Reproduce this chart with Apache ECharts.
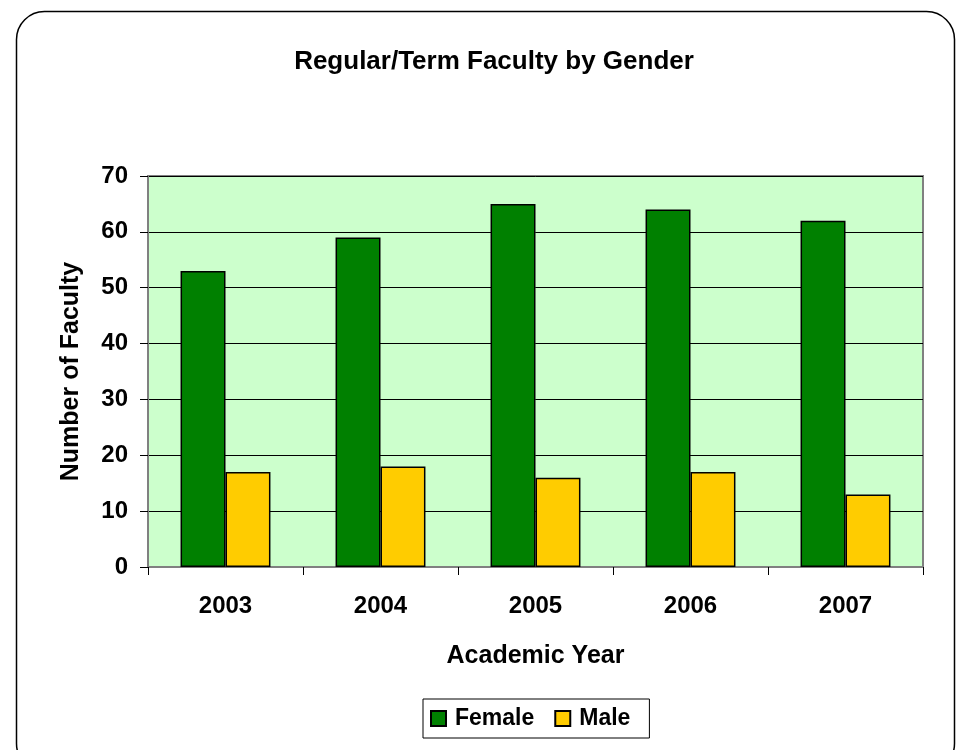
<!DOCTYPE html>
<html>
<head>
<meta charset="utf-8">
<script src="https://cdn.jsdelivr.net/npm/echarts@6/dist/echarts.min.js"></script>
<style>
  html, body { margin: 0; padding: 0; background: #fff; }
  #chart { width: 961px; height: 750px; }
</style>
</head>
<body>
<div id="chart"></div>
<script>
const years = ['2003', '2004', '2005', '2006', '2007']
const female = [53, 59, 65, 64, 62]
const male = [17, 18, 16, 17, 13]
const yTicks = { min: 0, max: 70, interval: 10 }

const font = "'Liberation Sans', Arial, sans-serif"
const chart = echarts.init(document.getElementById('chart'))

chart.setOption({
  animation: false,
  textStyle: { fontFamily: font },
  graphic: [
    {
      type: 'rect',
      shape: { x: 16.5, y: 11.5, width: 938, height: 760, r: 28 },
      style: { fill: 'none', stroke: '#000', lineWidth: 1.5 },
      silent: true
    }
  ],
  title: {
    text: 'Regular/Term Faculty by Gender',
    left: 489,
    top: 44,
    textAlign: 'center',
    textStyle: { fontSize: 26, fontWeight: 'bold', color: '#000', fontFamily: font }
  },
  legend: {
    data: ['Female', 'Male'],
    top: 699,
    left: 423,
    icon: 'rect',
    itemWidth: 15,
    itemHeight: 15,
    itemGap: 20,
    padding: [8, 19, 8, 7],
    borderColor: '#000',
    borderWidth: 1,
    itemStyle: { borderColor: '#000', borderWidth: 2 },
    textStyle: { fontSize: 23, fontWeight: 'bold', color: '#000', fontFamily: font, padding: [0, 0, 0, 4] }
  },
  grid: {
    left: 148,
    right: 38,
    top: 176,
    bottom: 183,
    show: true,
    backgroundColor: '#CCFFCC',
    borderColor: '#808080',
    borderWidth: 2,
    containLabel: false
  },
  xAxis: {
    type: 'category',
    data: years,
    name: 'Academic Year',
    nameLocation: 'middle',
    nameGap: 77,
    nameTextStyle: { fontSize: 25, fontWeight: 'bold', color: '#000', fontFamily: font },
    axisLine: { lineStyle: { color: '#808080', width: 2 } },
    axisTick: { show: true, length: 8, lineStyle: { color: '#000', width: 1 } },
    axisLabel: { fontSize: 24, fontWeight: 'bold', color: '#000', margin: 27, fontFamily: font }
  },
  yAxis: {
    type: 'value',
    min: yTicks.min,
    max: yTicks.max,
    interval: yTicks.interval,
    name: 'Number of Faculty',
    nameLocation: 'middle',
    nameGap: 64,
    nameTextStyle: { fontSize: 25, fontWeight: 'bold', color: '#000', fontFamily: font },
    axisLine: { show: true, lineStyle: { color: '#808080', width: 2 } },
    axisTick: { show: true, length: 8, lineStyle: { color: '#000', width: 1 } },
    axisLabel: { fontSize: 24, fontWeight: 'bold', color: '#000', margin: 20, fontFamily: font },
    splitLine: { show: true, lineStyle: { color: '#000', width: 1 } }
  },
  series: [
    {
      name: 'Female',
      type: 'bar',
      data: female,
      barGap: '0%',
      barCategoryGap: '42%',
      itemStyle: { color: '#008000', borderColor: '#000', borderWidth: 1.5 }
    },
    {
      name: 'Male',
      type: 'bar',
      data: male,
      itemStyle: { color: '#FFCC00', borderColor: '#000', borderWidth: 1.5 }
    }
  ]
})
</script>
</body>
</html>
